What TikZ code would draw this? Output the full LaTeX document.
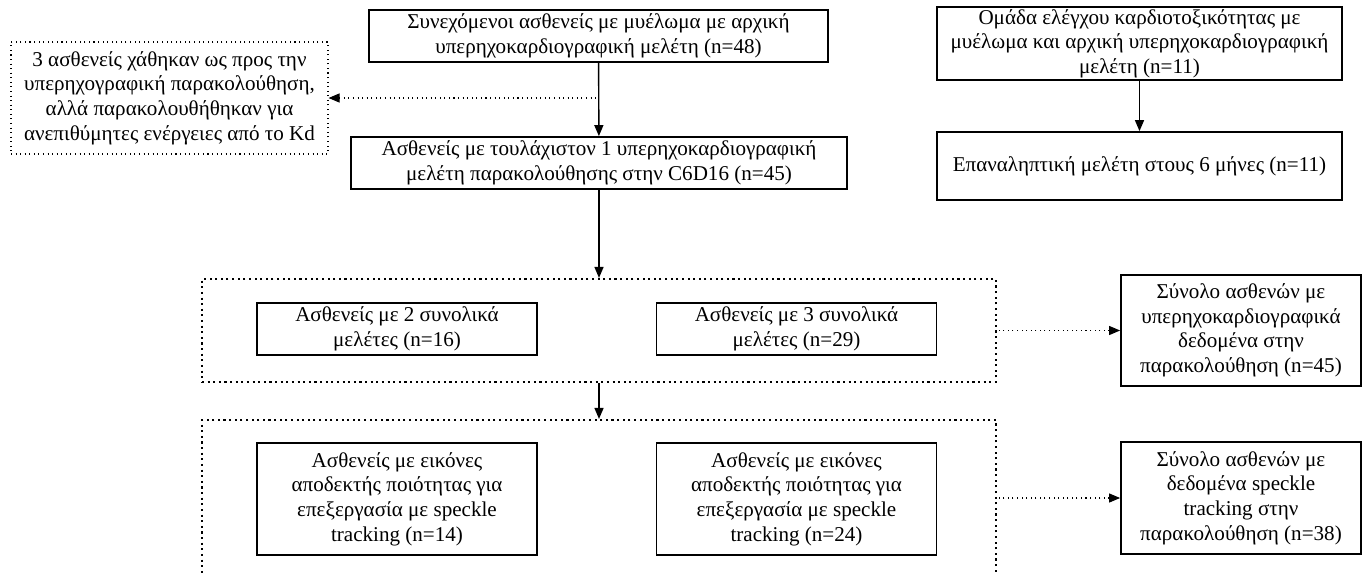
\documentclass[tikz,border=0pt]{standalone}
\usepackage{fontspec}
\setmainfont{Liberation Serif}
\usepackage{tikz}
\usetikzlibrary{arrows.meta, positioning}

\begin{document}
\begin{tikzpicture}[
    font=\fontsize{12}{14}\selectfont,
    block/.style={rectangle, draw, line width=1pt, align=center, inner xsep=2pt, inner ysep=1pt},
    dotblock/.style={rectangle, draw, dotted, line width=0.6pt, align=center, inner sep=2pt},
    groupbox/.style={rectangle, draw, dotted, line width=1.2pt},
    arrow/.style={-{Triangle[length=2.2mm, width=1.8mm]}, line width=0.8pt},
    dotarrow/.style={{Triangle[length=2.2mm, width=1.8mm]}-, dotted, line width=0.6pt}
]
\clip (0,0) rectangle (27.36,-11.46);

% Left column - patients
\node [block, minimum width=9.18cm, minimum height=1.04cm] (cohort) at (11.97,-0.72)
    {Συνεχόμενοι ασθενείς με μυέλωμα με αρχική\\υπερηχοκαρδιογραφική μελέτη (n=48)};
\node [dotblock, minimum width=6.34cm, minimum height=2.24cm] (lost) at (3.39,-1.96)
    {3 ασθενείς χάθηκαν ως προς την\\υπερηχογραφική παρακολούθηση,\\αλλά παρακολουθήθηκαν για\\ανεπιθύμητες ενέργειες από το Kd};
\node [block, minimum width=9.92cm, minimum height=1.04cm] (followup) at (11.98,-3.26)
    {Ασθενείς με τουλάχιστον 1 υπερηχοκαρδιογραφική\\μελέτη παρακολούθησης στην C6D16 (n=45)};

% Right column - control group
\node [block, minimum width=8.1cm, minimum height=1.46cm] (control) at (22.79,-0.87)
    {Ομάδα ελέγχου καρδιοτοξικότητας με\\μυέλωμα και αρχική υπερηχοκαρδιογραφική\\μελέτη (n=11)};
\node [block, minimum width=8.1cm, minimum height=1.36cm] (repeat) at (22.79,-3.32)
    {Επαναληπτική μελέτη στους 6 μήνες (n=11)};

% Number of studies
\node [groupbox, minimum width=15.88cm, minimum height=2.06cm] (studies) at (11.98,-6.61) {};
\node [block, minimum width=5.6cm, minimum height=1.04cm] (two) at (7.94,-6.58)
    {Ασθενείς με 2 συνολικά\\μελέτες (n=16)};
\node [block, minimum width=5.6cm, minimum height=1.04cm] (three) at (15.93,-6.58)
    {Ασθενείς με 3 συνολικά\\μελέτες (n=29)};
\node [block, minimum width=4.8cm, minimum height=2.22cm] (echo) at (24.82,-6.61)
    {Σύνολο ασθενών με\\υπερηχοκαρδιογραφικά\\δεδομένα στην\\παρακολούθηση (n=45)};

% Speckle tracking
\node [groupbox, minimum width=15.88cm, minimum height=3.8cm] (speckle) at (11.98,-10.3) {};
\node [block, minimum width=5.6cm, minimum height=2.24cm] (stwo) at (7.94,-9.98)
    {Ασθενείς με εικόνες\\αποδεκτής ποιότητας για\\επεξεργασία με speckle\\tracking (n=14)};
\node [block, minimum width=5.6cm, minimum height=2.24cm] (sthree) at (15.93,-9.98)
    {Ασθενείς με εικόνες\\αποδεκτής ποιότητας για\\επεξεργασία με speckle\\tracking (n=24)};
\node [block, minimum width=4.8cm, minimum height=2.24cm] (stotal) at (24.82,-9.96)
    {Σύνολο ασθενών με\\δεδομένα speckle\\tracking στην\\παρακολούθηση (n=38)};

% Arrows
\draw [arrow] (cohort) -- (followup);
\draw [dotarrow] (lost.east) -- (lost.east -| cohort.south);
\draw [arrow] (control) -- (repeat);
\draw [arrow] (followup) -- (studies);
\draw [arrow] (studies) -- (speckle.north);
\draw [dotarrow] (echo.west) -- (echo.west -| studies.east);
\draw [dotarrow] (stotal.west) -- (stotal.west -| speckle.east);

\end{tikzpicture}
\end{document}
